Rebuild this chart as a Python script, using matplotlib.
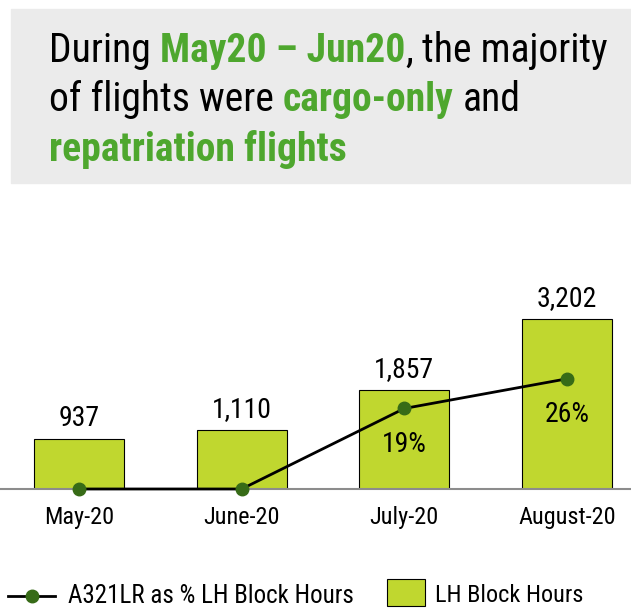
import matplotlib
matplotlib.use('Agg')
import matplotlib.pyplot as plt
from matplotlib import font_manager
from matplotlib.patches import Rectangle
from matplotlib.lines import Line2D

# data
months = ['May-20', 'June-20', 'July-20', 'August-20']
block_hours = [937, 1110, 1857, 3202]
a321_share = [0, 0, 19, 26]

# narrow sans font, closest thing to Arial Narrow that is installed
names = {f.name for f in font_manager.fontManager.ttflist}
font = 'DejaVu Sans'
for cand in ['Liberation Sans Narrow', 'Arimo Narrow', 'Roboto Condensed', 'Archivo Narrow', 'PT Sans Narrow']:
    if cand in names:
        font = cand
        break
plt.rcParams['font.family'] = font

GREEN = '#4ea72e'
BAR = '#c0d72f'
DOT = '#376b17'

W, H = 631, 609
fig = plt.figure(figsize=(W / 100, H / 100), dpi=100)

def fx(px):
    return px / W

def fy(py):
    return 1 - py / H

# title box
fig.patches.append(Rectangle((fx(11), fy(183)), fx(620), 174 / H,
                             transform=fig.transFigure, color='#ebebeb', zorder=0))

# chart
ax = fig.add_axes([0, fy(489), 1, 259 / H])
x = list(range(len(months)))
ax.bar(x, block_hours, width=0.553, color=BAR, edgecolor='black', linewidth=0.8, zorder=2)
ax.set_xlim(-0.4857, 3.3934)
ax.set_ylim(0, 4878)
for i, v in zip(x, block_hours):
    ax.annotate(f'{v:,}', (i, v), xytext=(0, 15), textcoords='offset points',
                ha='center', va='center', fontsize=20)
ax.set_xticks(x, months, fontsize=17.5)
ax.tick_params(axis='x', length=0, pad=12)
ax.set_yticks([])
for s in ['top', 'left', 'right']:
    ax.spines[s].set_visible(False)
ax.spines['bottom'].set_color('#8c8c8c')
ax.spines['bottom'].set_linewidth(1.5)

ax2 = ax.twinx()
ax2.set_ylim(0, 61.1)
ax2.plot(x, a321_share, color='black', linewidth=2, marker='o', markersize=9,
         markerfacecolor=DOT, markeredgecolor=DOT, clip_on=False, zorder=3)
for i, v in zip(x, a321_share):
    if v > 0:
        ax2.annotate(f'{v}%', (i, v), xytext=(0, -26), textcoords='offset points',
                     ha='center', va='center', fontsize=20)
ax2.set_yticks([])
for s in ax2.spines.values():
    s.set_visible(False)

# title with mixed colours
fig.canvas.draw()
r = fig.canvas.get_renderer()
TS = 28.5

def width_px(s, weight):
    t = fig.text(0, 0, s, fontsize=TS, fontweight=weight)
    w = t.get_window_extent(r).width
    t.remove()
    return w

space_w = width_px('a a', 'normal') - width_px('aa', 'normal')

title_lines = [
    (62, [('During', False), (' ', False), ('May20 – Jun20', True), (',', False), (' ', False), ('the majority', False)]),
    (111, [('of flights were', False), (' ', False), ('cargo-only', True), (' ', False), ('and', False)]),
    (161, [('repatriation flights', True)]),
]
for base, pieces in title_lines:
    px = 49
    for txt, bold in pieces:
        if txt == ' ':
            px += space_w
            continue
        weight = 'bold' if bold else 'normal'
        fig.text(fx(px), fy(base), txt, fontsize=TS, fontweight=weight,
                 color=GREEN if bold else 'black', va='baseline', ha='left')
        px += width_px(txt, weight)

# legend
fig.add_artist(Line2D([fx(8), fx(55)], [fy(596)] * 2, color='black', linewidth=2))
fig.add_artist(Line2D([fx(32)], [fy(596)], marker='o', markersize=9,
                      markerfacecolor=DOT, markeredgecolor=DOT))
fig.text(fx(68), fy(596), 'A321LR as % LH Block Hours', va='center', fontsize=18)
fig.patches.append(Rectangle((fx(387), fy(606)), 38 / W, 27 / H, transform=fig.transFigure,
                             facecolor=BAR, edgecolor='black', linewidth=0.8))
fig.text(fx(435), fy(596), 'LH Block Hours', va='center', fontsize=17.5)

fig.savefig('out.png', dpi=100)
